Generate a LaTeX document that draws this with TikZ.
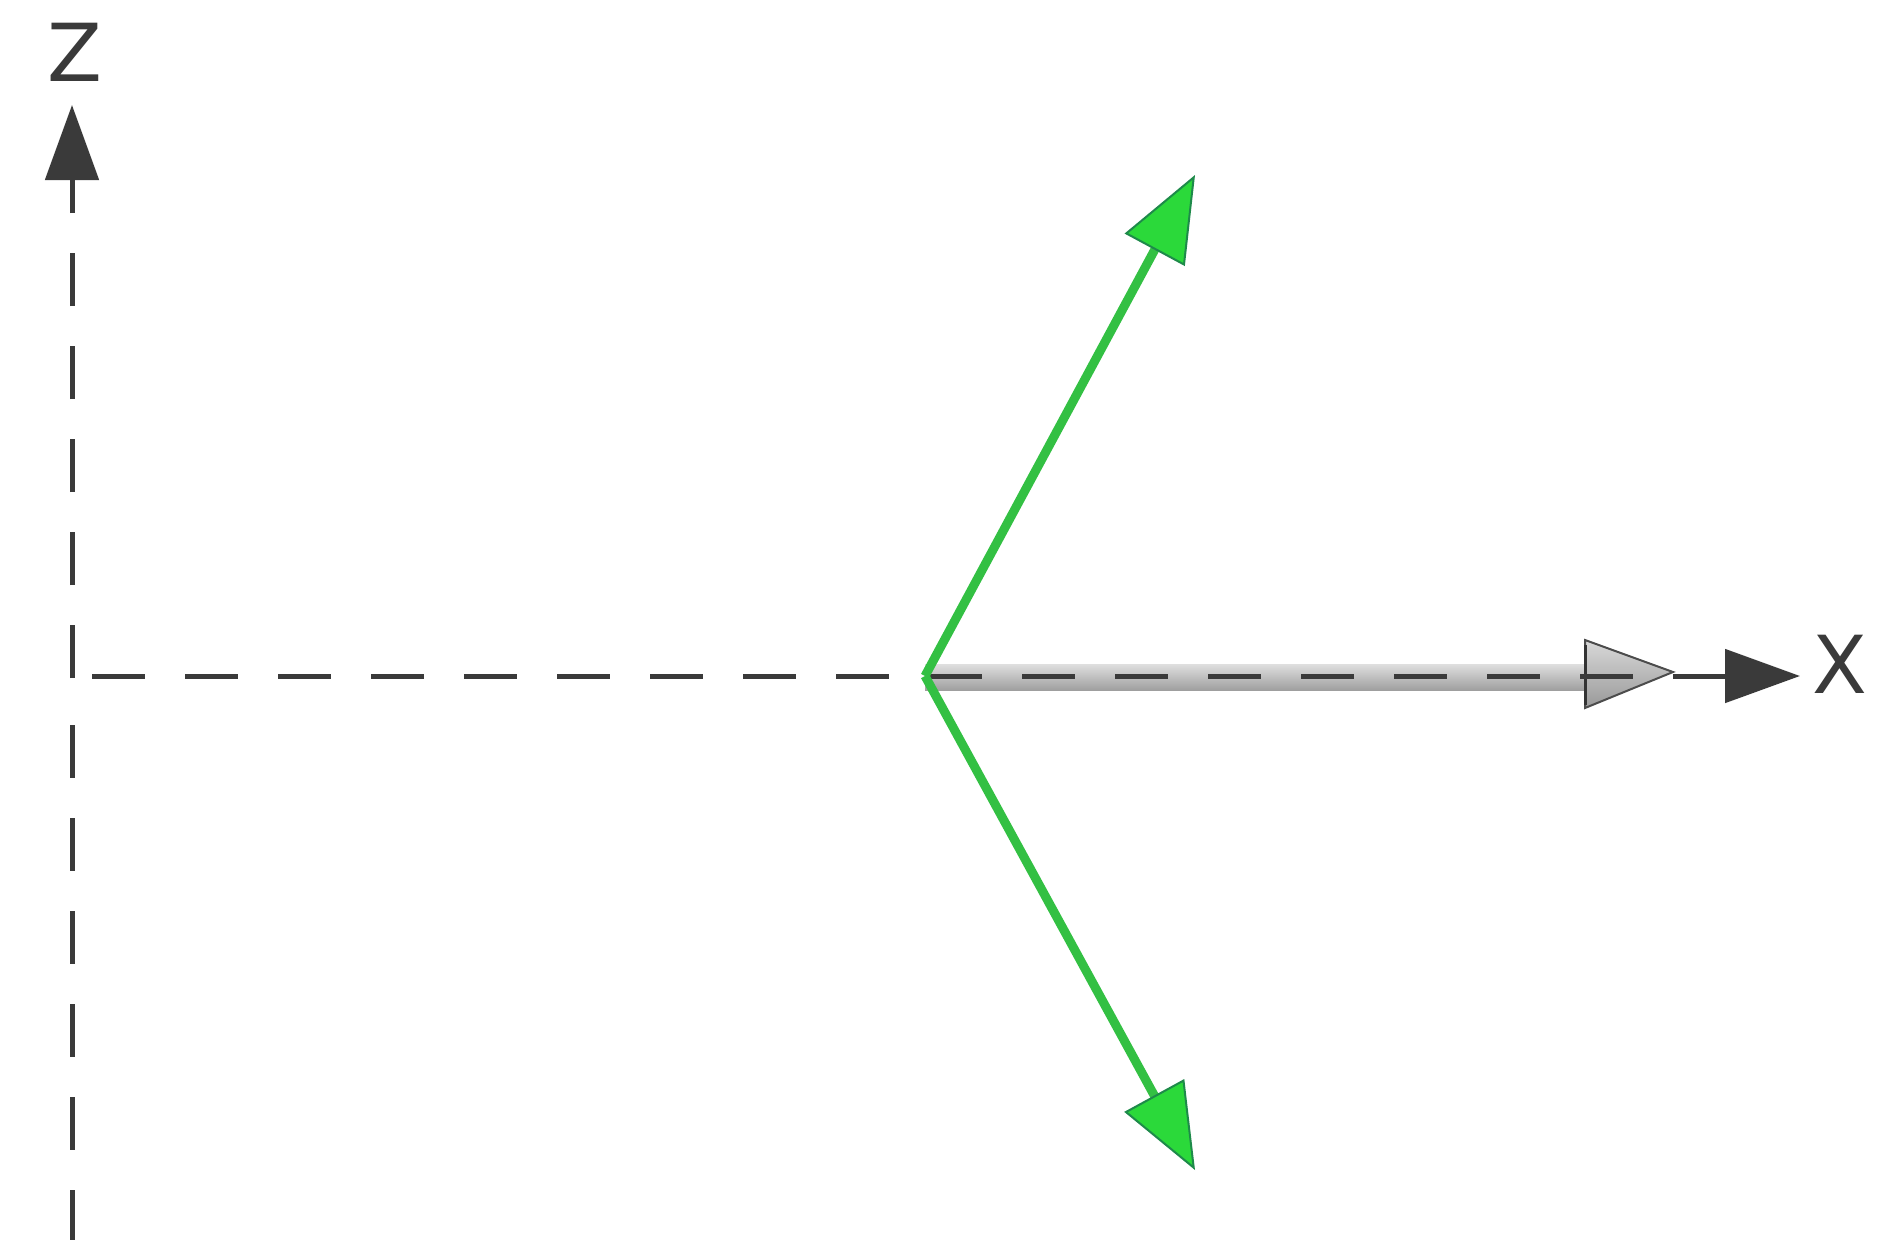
\documentclass[tikz,border=0pt]{standalone}
\usepackage{fontspec}
\setsansfont{DejaVu Sans}
\usetikzlibrary{arrows.meta}
\definecolor{axisgray}{HTML}{3A3A3A}
\definecolor{vecgreen}{HTML}{33C043}
\definecolor{vecdark}{HTML}{1E8A4A}
\definecolor{headgreen}{HTML}{2BD93A}
\tikzset{
  axisline/.style={draw=axisgray, line width=5pt, dash pattern=on 53pt off 40pt},
  axistip/.style={-{Triangle[length=75pt,width=53pt]}},
  vecline/.style={draw=vecgreen, line width=9pt, -{Triangle[length=85pt,width=68pt,fill=headgreen,color=vecdark,line width=2pt]}},
  lbl/.style={font=\fontsize{80}{80}\sffamily, text=axisgray, inner sep=0pt}
}
\begin{document}
\begin{tikzpicture}[x=1pt,y=-1pt]
\useasboundingbox (0,0) rectangle (1885,1240);
\fill[white] (0,0) rectangle (1885,1240);
% coordinates
\coordinate (O) at (72,676);
\coordinate (Zs) at (72,678);
\coordinate (Zd) at (72,725);
\coordinate (Zb) at (72,1240);
\coordinate (Zt) at (72,105);
\coordinate (Xs) at (92,676);
\coordinate (Xt) at (1800,676);
\coordinate (C) at (925,676);
\coordinate (U) at (1195,175);
\coordinate (D) at (1195,1170);
% labels
\node[lbl] (zl) at (75,52) {Z};
\node[lbl] (xl) at (1840,664) {X};
% gray vector shaft
\shade[top color=gray!25, bottom color=gray!75] (925,664) rectangle (1595,690);
% gray vector head
\shade[top color=gray!30, bottom color=gray!80, draw=gray!60!black, line width=2pt]
  (1585,640) -- (1673,672) -- (1585,708) -- cycle;
\draw[gray!40!black, line width=3pt] (1585,645) -- (1585,705);
% axes
\draw[axisline, axistip] (Zs) -- (Zt);
\draw[axisline] (Zd) -- (Zb);
\draw[axisline] (Xs) -- (1673,676);
\draw[draw=axisgray, line width=5pt, axistip] (1673,676) -- (Xt);
% green vectors
\draw[vecline] (C) -- (U);
\draw[vecline] (C) -- (D);
\end{tikzpicture}
\end{document}
